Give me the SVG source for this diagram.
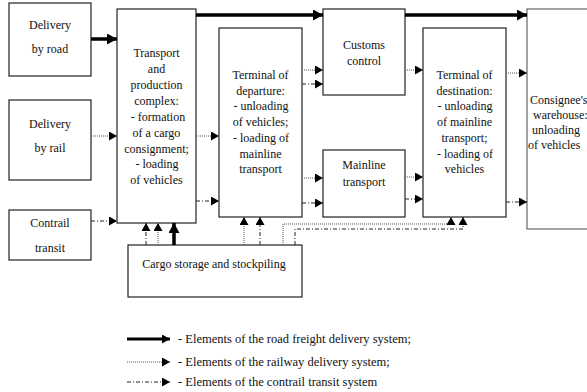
<svg xmlns="http://www.w3.org/2000/svg" width="587" height="392" viewBox="0 0 587 392">
<style>
  .box { fill: #fff; stroke: #222; stroke-width: 1.2; }
  text { font-family: "Times New Roman", "Liberation Serif", Times, "DejaVu Serif", serif; font-size: 12px; fill: #111; text-anchor: middle; }
  text.ts { text-anchor: start; }
  .road { fill: none; stroke: #000; stroke-width: 3.5; }
  .rail { fill: none; stroke: #555; stroke-width: 1; stroke-dasharray: 1 1; }
  .tran { fill: none; stroke: #222; stroke-width: 1; stroke-dasharray: 4 2 1 2; }
</style>
<defs>
  <marker id="ah" markerUnits="userSpaceOnUse" markerWidth="9" markerHeight="9" refX="8" refY="4.5" orient="auto">
    <path d="M0,0 L8,4.5 L0,9 Z" fill="#000"/>
  </marker>
  <marker id="ahb" markerUnits="userSpaceOnUse" markerWidth="11" markerHeight="11" refX="10" refY="5.5" orient="auto">
    <path d="M0,0 L10,5.5 L0,11 Z" fill="#000"/>
  </marker>
</defs>
<rect width="587" height="392" fill="#fff"/>

<g id="road">
  <rect class="box" x="9" y="3" width="82" height="73"/>
  <text x="50" y="29">Delivery</text>
  <text x="50" y="53">by road</text>
</g>
<g id="rail">
  <rect class="box" x="9" y="100" width="82" height="80"/>
  <text x="50" y="128">Delivery</text>
  <text x="50" y="152">by rail</text>
</g>
<g id="contrail">
  <rect class="box" x="9" y="210" width="82" height="50"/>
  <text x="50" y="227">Contrail</text>
  <text x="50" y="252">transit</text>
</g>
<g id="tpc">
  <rect class="box" x="117" y="9" width="79" height="214"/>
  <text x="156.5" y="57">Transport</text>
  <text x="156.5" y="73">and</text>
  <text x="156.5" y="89">production</text>
  <text x="156.5" y="105">complex:</text>
  <text x="158" y="121">- formation</text>
  <text x="156.5" y="137">of a cargo</text>
  <text x="156.5" y="152.5">consignment;</text>
  <text x="157" y="168">- loading</text>
  <text x="156.5" y="184">of vehicles</text>
</g>
<g id="storage">
  <rect class="box" x="128" y="245" width="174" height="52"/>
  <text x="214" y="268">Cargo storage and stockpiling</text>
</g>
<g id="departure">
  <rect class="box" x="219" y="28" width="83" height="189"/>
  <text x="260.5" y="79">Terminal of</text>
  <text x="260.5" y="95">departure:</text>
  <text x="261" y="110">- unloading</text>
  <text x="260.5" y="126">of vehicles;</text>
  <text x="261" y="142">- loading of</text>
  <text x="260.5" y="158">mainline</text>
  <text x="260.5" y="173">transport</text>
</g>
<g id="customs">
  <rect class="box" x="323" y="9" width="82" height="86"/>
  <text x="364" y="49">Customs</text>
  <text x="364" y="65">control</text>
</g>
<g id="mainline">
  <rect class="box" x="323" y="150" width="82" height="67"/>
  <text x="364" y="169">Mainline</text>
  <text x="364" y="186">transport</text>
</g>
<g id="destination">
  <rect class="box" x="423" y="28" width="83" height="189"/>
  <text x="464.5" y="79">Terminal of</text>
  <text x="464.5" y="95">destination:</text>
  <text x="465" y="110">- unloading</text>
  <text x="464.5" y="126">of mainline</text>
  <text x="464.5" y="142">transport;</text>
  <text x="465" y="158">- loading of</text>
  <text x="464.5" y="173">vehicles</text>
</g>
<g id="consignee">
  <rect class="box" x="527" y="9" width="80" height="220" style="stroke:#666"/>
  <text class="ts" x="530" y="104">Consignee's</text>
  <text class="ts" x="533" y="119">warehouse:</text>
  <text class="ts" x="532" y="134">unloading</text>
  <text class="ts" x="528" y="149">of vehicles</text>
</g>

<g id="connectors">
  <line class="road" x1="91" y1="39" x2="117" y2="39" marker-end="url(#ahb)"/>
  <line class="road" x1="196" y1="15" x2="323" y2="15" marker-end="url(#ahb)"/>
  <line class="road" x1="405" y1="15" x2="527" y2="15" marker-end="url(#ahb)"/>
  <line class="road" x1="174" y1="245" x2="174" y2="223" marker-end="url(#ahb)"/>
  <line class="rail" x1="91" y1="136" x2="117" y2="136" marker-end="url(#ah)"/>
  <line class="rail" x1="196" y1="136" x2="219" y2="136" marker-end="url(#ah)"/>
  <line class="rail" x1="302" y1="70" x2="323" y2="70" marker-end="url(#ah)"/>
  <line class="rail" x1="405" y1="70" x2="423" y2="70" marker-end="url(#ah)"/>
  <line class="rail" x1="506" y1="73" x2="527" y2="73" marker-end="url(#ah)"/>
  <line class="rail" x1="302" y1="178" x2="323" y2="178" marker-end="url(#ah)"/>
  <line class="rail" x1="405" y1="177" x2="423" y2="177" marker-end="url(#ah)"/>
  <line class="rail" x1="158" y1="245" x2="158" y2="223" marker-end="url(#ah)"/>
  <line class="rail" x1="244" y1="245" x2="244" y2="217" marker-end="url(#ah)"/>
  <polyline class="rail" points="283,245 283,224 451,224 451,217" marker-end="url(#ah)"/>
  <line class="tran" x1="91" y1="221" x2="117" y2="221" marker-end="url(#ah)"/>
  <line class="tran" x1="196" y1="201" x2="219" y2="201" marker-end="url(#ah)"/>
  <line class="tran" x1="302" y1="84" x2="323" y2="84" marker-end="url(#ah)"/>
  <line class="tran" x1="302" y1="203" x2="323" y2="203" marker-end="url(#ah)"/>
  <line class="tran" x1="405" y1="199" x2="423" y2="199" marker-end="url(#ah)"/>
  <line class="tran" x1="506" y1="202" x2="527" y2="202" marker-end="url(#ah)"/>
  <line class="tran" x1="146" y1="245" x2="146" y2="223" marker-end="url(#ah)"/>
  <line class="tran" x1="260" y1="245" x2="260" y2="217" marker-end="url(#ah)"/>
  <polyline class="tran" points="295,245 295,229 463,229 463,217" marker-end="url(#ah)"/>
</g>

<g id="legend">
  <line class="road" x1="127" y1="339" x2="170" y2="339" style="stroke-width:3" marker-end="url(#ah)"/>
  <text class="ts" x="178" y="343" style="font-size:12.5px">- Elements of the road freight delivery system;</text>
  <line class="rail" x1="127" y1="362" x2="170" y2="362" marker-end="url(#ah)"/>
  <text class="ts" x="178" y="366" style="font-size:12.5px">- Elements of the railway delivery system;</text>
  <line class="tran" x1="127" y1="382" x2="170" y2="382" marker-end="url(#ah)"/>
  <text class="ts" x="178" y="386" style="font-size:12.5px">- Elements of the contrail transit system</text>
</g>
</svg>
